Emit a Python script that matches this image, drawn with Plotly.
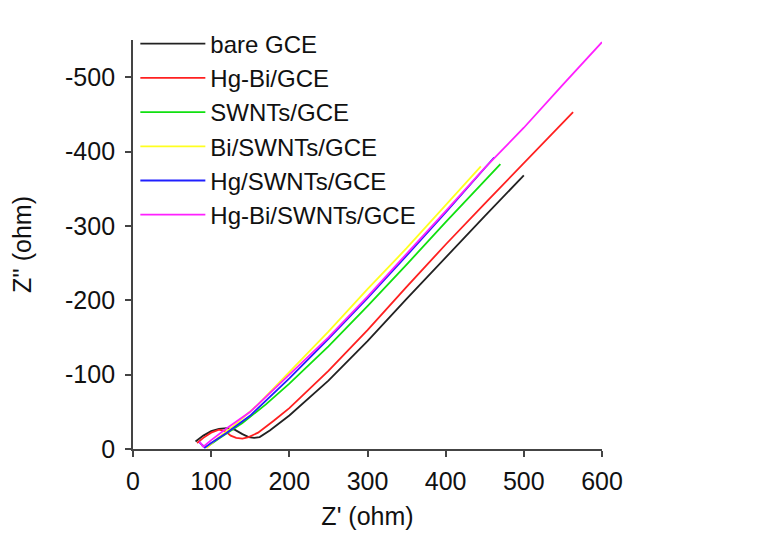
import plotly.graph_objects as go

# Nyquist plots, Z' (ohm) vs -Z'' (ohm)
names = ["bare GCE", "Hg-Bi/GCE", "SWNTs/GCE", "Bi/SWNTs/GCE", "Hg/SWNTs/GCE", "Hg-Bi/SWNTs/GCE"]
colors = ["#222222", "#ff2020", "#10e010", "#ffff20", "#2020ff", "#ff20ff"]

bare_x = [80, 90, 100, 110, 120, 130, 140, 148, 155, 162, 175, 200, 250, 300, 350, 400, 450, 500]
bare_y = [10, 18, 24, 27, 28, 26, 20, 16, 15, 16, 25, 45, 92, 145, 202, 258, 313, 368]

hgbi_x = [82, 90, 100, 110, 118, 125, 132, 140, 148, 160, 180, 200, 250, 300, 350, 400, 450, 500, 563]
hgbi_y = [8, 15, 22, 26, 24, 18, 15, 14, 16, 22, 38, 55, 105, 160, 218, 275, 330, 385, 453]

swnt_x = [88, 95, 110, 140, 170, 200, 250, 300, 350, 400, 470]
swnt_y = [5, 3, 14, 35, 60, 88, 138, 192, 248, 305, 383]

bi_x = [88, 95, 105, 130, 160, 200, 250, 300, 350, 400, 445]
bi_y = [5, 2, 12, 32, 60, 103, 158, 215, 270, 328, 380]

hg_x = [85, 92, 100, 120, 150, 200, 250, 300, 350, 400, 462]
hg_y = [9, 2, 8, 22, 45, 95, 148, 203, 260, 318, 392]

hgbiswnt_x = [85, 90, 100, 120, 150, 200, 250, 300, 350, 400, 450, 500, 550, 600]
hgbiswnt_y = [10, 3, 12, 28, 50, 100, 150, 205, 262, 320, 378, 432, 490, 547]

xs = [bare_x, hgbi_x, swnt_x, bi_x, hg_x, hgbiswnt_x]
ys = [bare_y, hgbi_y, swnt_y, bi_y, hg_y, hgbiswnt_y]

x_ticks = [0, 100, 200, 300, 400, 500, 600]
y_ticks = [0, -100, -200, -300, -400, -500]
y_ticklabels = ["0", "-100", "-200", "-300", "-400", "-500"]

fig = go.Figure()
for i, name in enumerate(names):
    fig.add_trace(
        go.Scatter(
            x=xs[i],
            y=[-v for v in ys[i]],
            mode="lines",
            name=name,
            legendgroup=name,
            line=dict(color=colors[i], width=1.8),
        )
    )

font = dict(family="Liberation Sans, Arial", size=25, color="#111")

fig.update_layout(
    width=773,
    height=546,
    margin=dict(l=120, r=179, t=32, b=105),
    paper_bgcolor="white",
    plot_bgcolor="white",
    font=font,
    legend=dict(
        x=0.005,
        y=1.045,
        xanchor="left",
        yanchor="top",
        bgcolor="rgba(0,0,0,0)",
        font=dict(family="Liberation Sans, Arial", size=24, color="#111"),
        tracegroupgap=0,
        itemwidth=65,
    ),
    xaxis=dict(
        range=[0, 600],
        tickvals=x_ticks,
        ticks="outside",
        ticklen=6,
        tickwidth=1.5,
        tickcolor="#444",
        ticklabelstandoff=3,
        showline=True,
        linecolor="#444",
        linewidth=1.8,
        showgrid=False,
        zeroline=False,
        title=dict(text="Z' (ohm)", font=font, standoff=14),
    ),
    yaxis=dict(
        range=[0, -550],
        tickvals=y_ticks,
        ticktext=y_ticklabels,
        ticks="outside",
        ticklen=6,
        tickwidth=1.5,
        tickcolor="#444",
        ticklabelstandoff=5,
        showline=True,
        linecolor="#444",
        linewidth=1.8,
        showgrid=False,
        zeroline=False,
        title=dict(text="Z'' (ohm)", font=font, standoff=28),
    ),
)

fig.write_html("out.html")
